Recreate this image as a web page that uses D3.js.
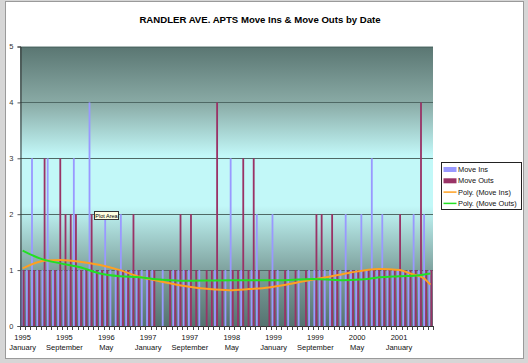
<!DOCTYPE html>
<html>
<head>
<meta charset="utf-8">
<script src="https://cdn.jsdelivr.net/npm/d3@7"></script>
<style>
  html, body { margin: 0; padding: 0; background: #d6d6d6; }
  svg { display: block; font-family: Arial, "Liberation Sans", sans-serif; }
</style>
</head>
<body>
<svg id="chart" width="528" height="363"></svg>
<script>
// months Jan 1995 .. Jul 2001, one category each
var months = d3.timeMonth.range(new Date(1995, 0, 1), new Date(2001, 7, 1));

var moveIns  = [1,1,3,1,1,3,1,1,1,1, 3,1,1,4,1,1,2,1,1,2, 1,1,1,1,1,1,0,1,0,1,
                1,1,1,0,1,0,0,1,0,1, 3,0,1,0,1,2,0,0,2,1, 0,1,0,1,0,1,1,1,1,1,
                1,1,2,1,1,2,1,3,1,2, 1,1,1,1,1,2,1,2,1];
var moveOuts = [1,1,1,1,3,1,1,3,2,2, 2,1,1,2,1,1,1,0,1,1, 1,2,1,0,1,1,0,0,1,1,
                2,1,2,1,0,1,1,4,1,0, 1,1,3,1,3,1,0,1,1,0, 1,0,1,0,1,0,2,2,0,2,
                1,0,1,1,1,1,1,1,1,1, 1,1,2,1,1,1,4,1,1];

// tick labels every 8 months
var tickIdx = [0, 8, 16, 24, 32, 40, 48, 56, 64, 72];
var tickYears = ["1995","1995","1996","1997","1997","1998","1999","1999","2000","2001"];
var tickMonths = ["January","September","May","January","September","May","January","September","May","January"];

// trend lines: [month index, value]
var polyIns  = [[0,1.03],[4.4,1.17],[7.2,1.18],[11,1.15],[14.8,1.09],[18.6,1.0],[22.4,0.88],
                [26.2,0.8],[30,0.73],[35.7,0.66],[39.5,0.64],[43.3,0.66],[47.1,0.69],[51,0.75],
                [54.8,0.82],[58.6,0.88],[62.4,0.95],[68.1,1.02],[72,1.0],[74.5,0.93],[76.8,0.85],[78,0.74]];
var polyOuts = [[0,1.35],[3.3,1.21],[7.2,1.12],[11,1.05],[14.8,0.94],[18.6,0.89],[22.4,0.87],
                [26.2,0.83],[30,0.81],[40,0.82],[50,0.82],[55.5,0.84],[61,0.82],[64.5,0.83],
                [68.3,0.87],[72,0.89],[75.9,0.91],[78,0.94]];

var seriesNames = ["Move Ins", "Move Outs", "Poly.  (Move Ins)", "Poly.  (Move Outs)"];
var colors = ["#9999ff", "#993366", "#ffa020", "#22e022"];

var svg = d3.select("#chart");
var L = 20, R = 433, T = 46.5, B = 326;

// chart frame
svg.append("rect").attr("x", 5.5).attr("y", 1.5).attr("width", 518).attr("height", 357)
  .attr("fill", "#fff").attr("stroke", "#9a9a9a");

svg.append("text").attr("x", 260).attr("y", 23).attr("text-anchor", "middle")
  .style("font-size", "9.6px").style("font-weight", "bold")
  .text("RANDLER AVE. APTS Move Ins & Move Outs by Date");

var x = d3.scaleBand().domain(d3.range(months.length)).range([L, R]);
var sub = d3.scaleBand().domain([0, 1]).range([0, x.bandwidth()]).paddingOuter(0.3).paddingInner(0.15);
var y = d3.scaleLinear().domain([0, 5]).range([B, T]);
var xc = d3.scaleLinear().domain([0, months.length - 1])
  .range([L + x.bandwidth() / 2, R - x.bandwidth() / 2]);

// plot background gradient
var grad = svg.append("defs").append("linearGradient").attr("id", "bg")
  .attr("x1", 0).attr("y1", 0).attr("x2", 0).attr("y2", 1);
grad.append("stop").attr("offset", "0").attr("stop-color", "#5a7672");
grad.append("stop").attr("offset", "0.2").attr("stop-color", "#89aaa5");
grad.append("stop").attr("offset", "0.39").attr("stop-color", "#c2f8f8");
grad.append("stop").attr("offset", "0.57").attr("stop-color", "#c2f8f8");
grad.append("stop").attr("offset", "0.8").attr("stop-color", "#7fa29e");
grad.append("stop").attr("offset", "1").attr("stop-color", "#557370");

svg.append("rect").attr("x", L).attr("y", T).attr("width", R - L).attr("height", B - T)
  .attr("fill", "url(#bg)");

// gridlines
svg.append("g").selectAll("line").data([1, 2, 3, 4, 5]).join("line")
  .attr("x1", L).attr("x2", R)
  .attr("y1", function(d) { return Math.round(y(d)) + 0.5; })
  .attr("y2", function(d) { return Math.round(y(d)) + 0.5; })
  .attr("stroke", "#4f6965").attr("stroke-width", 1);

// bars
var bars = svg.append("g");
[moveIns, moveOuts].forEach(function(vals, s) {
  bars.append("g").selectAll("rect").data(vals).join("rect")
    .attr("x", function(d, i) { return x(i) + sub(s); })
    .attr("width", sub.bandwidth())
    .attr("y", function(d) { return y(d); })
    .attr("height", function(d) { return B - y(d); })
    .attr("fill", colors[s]);
});

// trend lines
var line = d3.line().curve(d3.curveMonotoneX)
  .x(function(d) { return xc(d[0]); }).y(function(d) { return y(d[1]); });
svg.append("path").datum(polyIns).attr("d", line).attr("fill", "none")
  .attr("stroke", colors[2]).attr("stroke-width", 2);
svg.append("path").datum(polyOuts).attr("d", line).attr("fill", "none")
  .attr("stroke", colors[3]).attr("stroke-width", 2);

// y axis
var yAxis = svg.append("g").attr("transform", "translate(" + (L + 0.5) + ",0)")
  .call(d3.axisLeft(y).tickValues([0, 1, 2, 3, 4, 5]).tickSize(3).tickPadding(4).tickFormat(d3.format("d")));
yAxis.select(".domain").attr("stroke", "#333");
yAxis.selectAll(".tick line").attr("stroke", "#555");
yAxis.selectAll("text").style("font-size", "7.5px").attr("fill", "#333").style("font-family", "Arial, 'Liberation Sans', sans-serif");

// x axis: line, monthly ticks, labels every 8 months
svg.append("line").attr("x1", L).attr("x2", R).attr("y1", B + 0.5).attr("y2", B + 0.5).attr("stroke", "#333");
svg.append("g").selectAll("line").data(d3.range(months.length + 1)).join("line")
  .attr("x1", function(i) { return Math.round(L + i * x.step()) + 0.5; })
  .attr("x2", function(i) { return Math.round(L + i * x.step()) + 0.5; })
  .attr("y1", B).attr("y2", B + 4).attr("stroke", "#444");
var xl = svg.append("g").selectAll("text").data(tickIdx).join("text")
  .attr("text-anchor", "middle").style("font-size", "7.5px").attr("fill", "#111");
xl.append("tspan").attr("x", function(i) { return xc(i); }).attr("y", 339.5)
  .text(function(d, k) { return tickYears[k]; });
xl.append("tspan").attr("x", function(i) { return xc(i); }).attr("y", 350)
  .text(function(d, k) { return tickMonths[k]; });

// "Plot Area" tip
var tip = svg.append("g").attr("transform", "translate(94.5,211.5)");
tip.append("rect").attr("width", 24).attr("height", 8).attr("fill", "#ffffe1").attr("stroke", "#333");
tip.append("text").attr("x", 12).attr("y", 6).attr("text-anchor", "middle")
  .style("font-size", "5.5px").text("Plot Area");

// legend
var lg = svg.append("g").attr("transform", "translate(441.5,162.5)");
lg.append("rect").attr("width", 80).attr("height", 47).attr("fill", "#fff").attr("stroke", "#222");
seriesNames.forEach(function(name, k) {
  var cy = 7 + k * 11.3;
  if (k < 2) {
    lg.append("rect").attr("x", 2).attr("y", cy - 2.5).attr("width", 13).attr("height", 5).attr("fill", colors[k]);
  } else {
    lg.append("line").attr("x1", 2).attr("x2", 15).attr("y1", cy).attr("y2", cy)
      .attr("stroke", colors[k]).attr("stroke-width", 1.5);
  }
  lg.append("text").attr("x", 16.5).attr("y", cy + 2.6).style("font-size", "7.4px").attr("fill", "#111").text(name);
});
</script>
</body>
</html>
